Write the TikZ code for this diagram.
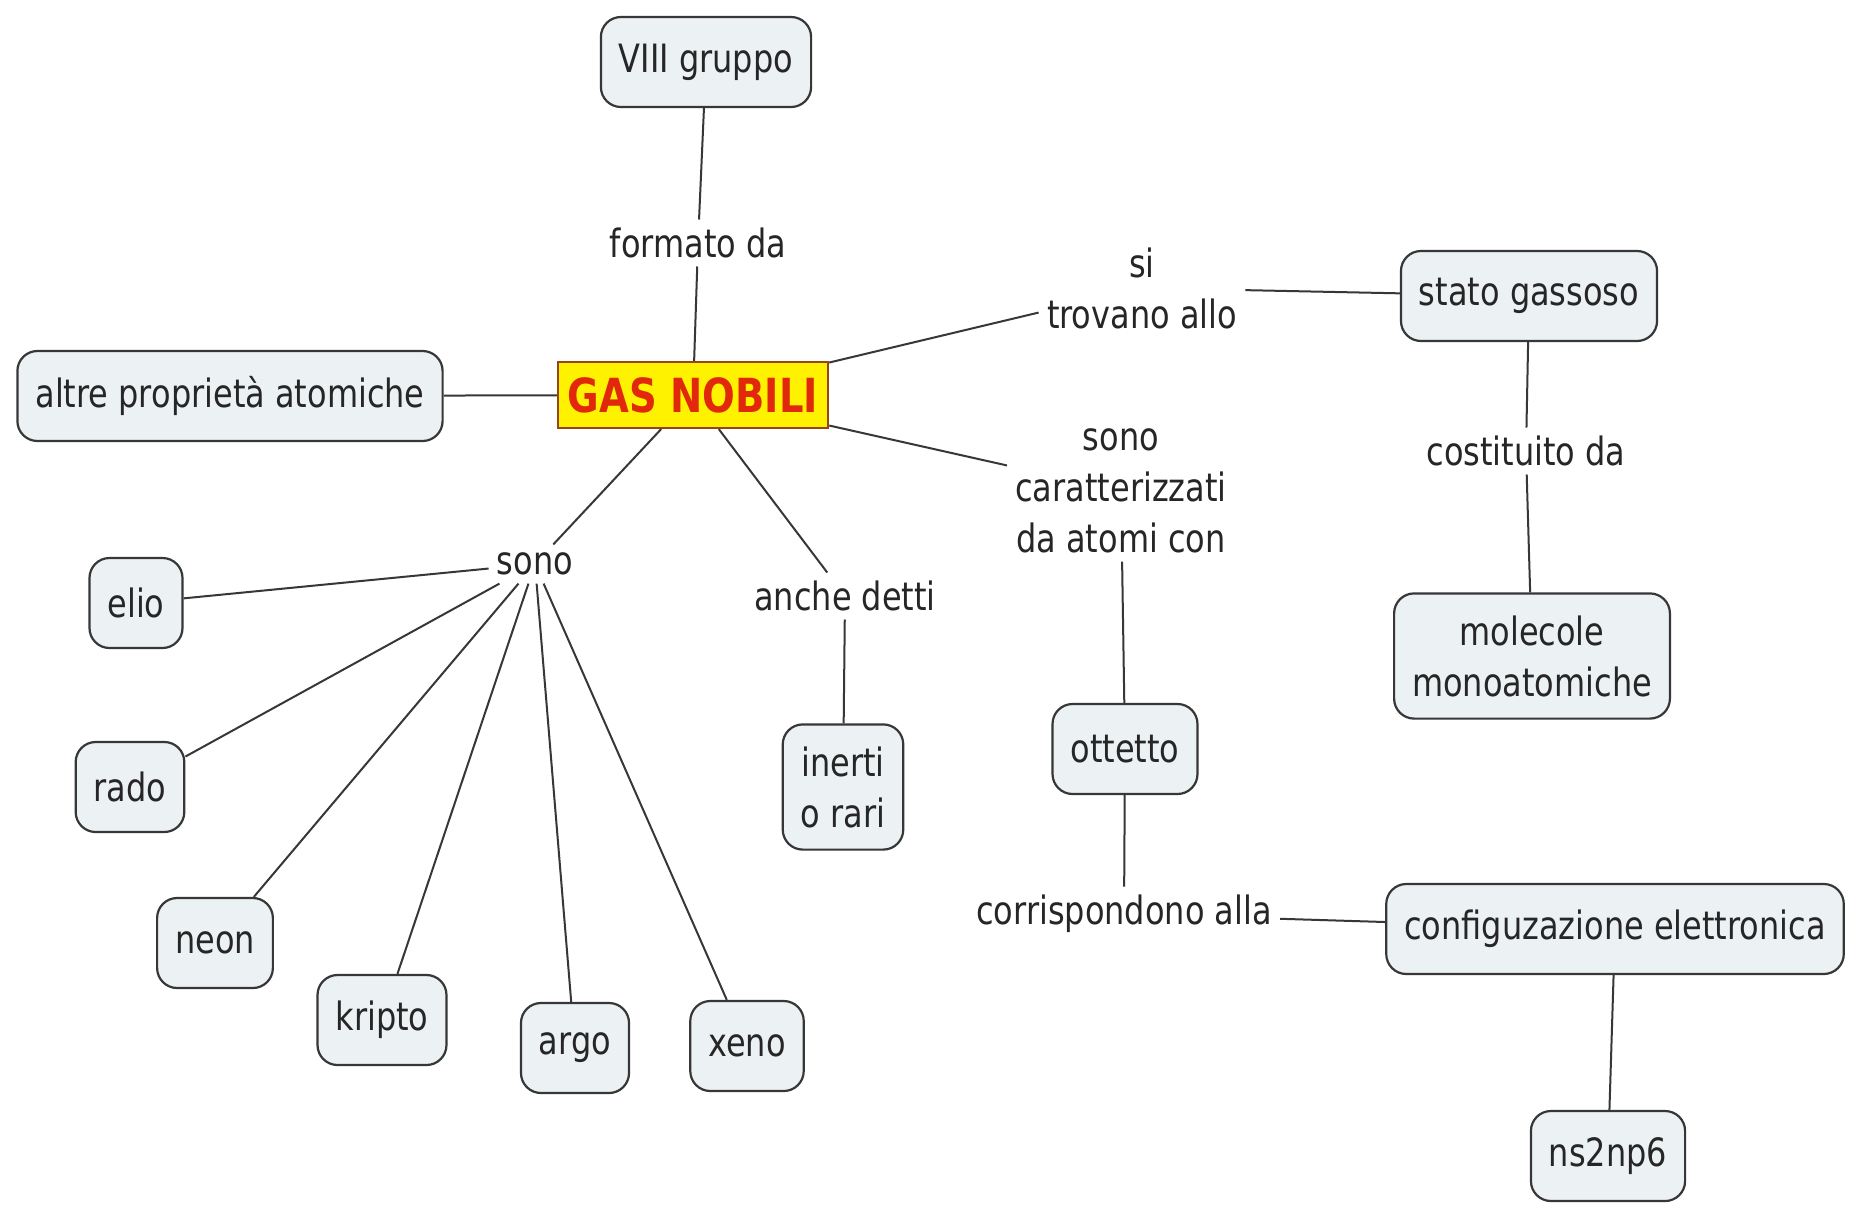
\documentclass[tikz,border=0pt]{standalone}
\usepackage{fontspec}
\setmainfont{DejaVu Sans}[FakeStretch=0.82]
\usepackage{tikz}
\definecolor{boxfill}{RGB}{236,241,243}
\definecolor{boxline}{RGB}{55,55,55}
\definecolor{gasfill}{RGB}{255,242,0}
\definecolor{gasline}{RGB}{150,70,20}
\definecolor{gastext}{RGB}{225,40,10}
\tikzset{concept/.style={draw=boxline, line width=1.1pt, fill=boxfill, rounded corners=10pt,
    inner xsep=9pt, inner ysep=11pt, minimum height=45pt, align=center, font=\fontsize{19.5}{25.5}\selectfont, text=black!85},
  mainconcept/.style={draw=gasline, line width=1.1pt, fill=gasfill, inner xsep=5pt,
    minimum height=33pt, font=\fontsize{23.5}{28}\selectfont\bfseries, text=gastext},
  linkword/.style={inner sep=4pt, align=center, font=\fontsize{19.5}{25.5}\selectfont, text=black!85},
  link/.style={draw=boxline, line width=1pt}}

\begin{document}
\begin{tikzpicture}[x=0.5pt, y=-0.5pt]
    \useasboundingbox[fill=white] (0,0) rectangle (1855,1210);
    \node[mainconcept] (gas) at (693, 395) {GAS NOBILI};
    \node[concept] (viii) at (706, 62) {VIII gruppo};
    \node[linkword] (formato) at (698, 243) {formato da};
    \node[concept] (altre) at (230, 396) {altre proprietà atomiche};
    \node[linkword] (trovano) at (1142, 288) {si\\trovano allo};
    \node[concept] (stato) at (1529, 296) {stato gassoso};
    \node[linkword] (costituito) at (1526, 451) {costituito da};
    \node[concept] (molecole) at (1532, 656) {molecole\\monoatomiche};
    \node[linkword] (caratt) at (1121, 491) {sono\\caratterizzati\\da atomi con};
    \node[concept] (ottetto) at (1125, 749) {ottetto};
    \node[linkword] (corrisp) at (1124, 914) {corrispondono alla};
    \node[concept] (config) at (1615, 929) {configuzazione elettronica};
    \node[concept] (ns) at (1608, 1156) {ns2np6};
    \node[linkword] (anche) at (845, 596) {anche detti};
    \node[concept] (inerti) at (843, 787) {inerti\\o rari};
    \node[linkword] (sono) at (535, 564) {sono};
    \node[concept] (elio) at (136, 603) {elio};
    \node[concept] (rado) at (130, 787) {rado};
    \node[concept] (neon) at (215, 943) {neon};
    \node[concept] (kripto) at (382, 1020) {kripto};
    \node[concept] (argo) at (575, 1048) {argo};
    \node[concept] (xeno) at (747, 1046) {xeno};
    % connections
    \draw[link] (viii) to (formato);
    \draw[link] (formato) to (gas);
    \draw[link] (altre) to (gas);
    \draw[link] (gas) to (trovano);
    \draw[link] (trovano) to (stato);
    \draw[link] (stato) to (costituito);
    \draw[link] (costituito) to (molecole);
    \draw[link] (gas) to (caratt);
    \draw[link] (caratt) to (ottetto);
    \draw[link] (ottetto) to (corrisp);
    \draw[link] (corrisp) to (config);
    \draw[link] (config) to (ns);
    \draw[link] (gas) to (anche);
    \draw[link] (anche) to (inerti);
    \draw[link] (gas) to (sono);
    \foreach \g in {elio, rado, neon, kripto, argo, xeno}
        \draw[link] (sono) to (\g);
\end{tikzpicture}
\end{document}
